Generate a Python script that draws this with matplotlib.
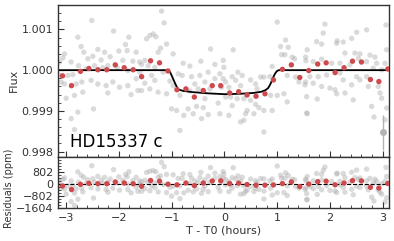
import numpy as np
import matplotlib
matplotlib.use("Agg")
import matplotlib.pyplot as plt
from matplotlib.ticker import MultipleLocator, FixedLocator, FormatStrFormatter

# ---------------- data ----------------
# unbinned photometry (time from mid-transit in hours, relative flux)
t_raw = [
    -2.514, -2.102, -2.780, -1.812, -2.717, -1.875, -2.400, -1.844, -2.666, -2.273,
    -2.002, -1.674, -2.167, -3.032, -2.495, -2.590, -2.338, -1.926, -1.736, -3.065,
    -3.127, -2.907, -1.609, -2.767, -2.463, -2.211, -2.034, -2.306, -2.622, -1.831,
    -2.875, -3.127, -2.970, -2.528, -2.400, -2.243, -2.116, -2.704, -3.097, -3.032,
    -2.812, -1.674, -1.641, -2.211, -1.989, -1.831, -2.685, -2.843, -1.769, -3.002,
    -2.482, -2.780, -2.907, -2.843,
    -1.192, -1.142, -1.351, -1.414, -1.476, -1.300, -1.097, -1.211, -1.256, -0.262,
    -0.972, -1.509, -1.571, -1.446, -1.319, -0.782, -0.655, -0.446, -0.180, -0.023,
    -1.603, -1.381, -1.161, -0.877, -0.801, -0.622, -0.465, -0.307, -0.085, -0.023,
    -1.509, -1.319, -1.034, -0.972, -0.560, -0.370, -0.180, -1.571, -1.414, -1.256,
    -1.097, -0.844, -0.655, -0.497, -0.275, -0.053, -0.370, -0.118, -1.002, -0.907,
    -0.687, -0.528, -0.402, -0.769, -0.592, -0.307, -0.085, -0.433, -0.844,
    1.002, 1.161, 0.167, 1.066, 1.211, 1.085, 1.148, 1.287, 1.541, 1.332,
    0.907, -0.009, 0.256, 0.338, 0.148, 0.213, 0.023, 0.687, 0.750, 0.863,
    0.497, 0.592, 0.307, 0.085, 0.622, 1.192, 1.351, 1.414, 1.541, 0.877,
    1.002, 1.129, 0.118, 0.243, 0.370, 0.497, 0.023, 1.192, 0.148, 0.592,
    0.655, 0.433, 0.402, 0.370, 0.307, 0.750, 0.907, 0.085, 1.571, 0.750,
    0.560,
    1.571, 1.749, 1.844, 1.907, 1.875, 2.140, 2.254, 2.129, 2.508, 2.698,
    2.414, 2.287, 2.476, 2.571, 2.761, 2.856, 3.065, 3.078, 1.546, 1.685,
    1.844, 2.034, 2.192, 2.381, 2.539, 2.698, 2.888, 3.046, 1.622, 1.780,
    1.939, 2.192, 2.508, 2.698, 2.824, 2.983, 1.528, 1.685, 1.844, 2.002,
    2.097, 2.254, 2.414, 2.571, 2.729, 2.918, 1.560, 1.761, 2.129, 2.287,
    2.444, 2.951, 2.983, 2.793, 3.078, 1.560, 2.837, 3.046,
]
f_raw = [
    1.00122, 1.00096, 1.00081, 1.00081, 1.00058, 1.00063, 1.00051, 1.00048, 1.00044, 1.00044,
    1.00047, 1.00044, 1.00033, 1.00040, 1.00034, 1.00028, 1.00025, 1.00024, 1.00022, 1.00030,
    1.00020, 1.00020, 1.00020, 1.00011, 1.00011, 1.00011, 1.00007, 1.00006, 1.00003, 0.99999,
    0.99989, 0.99987, 0.99987, 0.99975, 0.99966, 0.99962, 0.99971, 0.99971, 0.99971, 0.99966,
    0.99966, 0.99979, 0.99950, 0.99944, 0.99958, 0.99962, 0.99946, 0.99938, 0.99940, 0.99931,
    0.99905, 0.99897, 0.99881, 0.99854,
    1.00145, 1.00116, 1.00089, 1.00085, 1.00077, 1.00082, 1.00064, 1.00054, 1.00044, 1.00052,
    1.00040, 1.00024, 1.00014, 1.00011, 1.00007, 1.00017, 1.00010, 1.00022, 1.00014, 1.00024,
    0.99995, 0.99987, 0.99995, 0.99991, 0.99987, 0.99984, 0.99987, 0.99995, 0.99991, 0.99979,
    0.99968, 0.99975, 0.99973, 0.99962, 0.99966, 0.99971, 0.99979, 0.99950, 0.99954, 0.99946,
    0.99942, 0.99938, 0.99949, 0.99954, 0.99954, 0.99958, 0.99930, 0.99919, 0.99905, 0.99901,
    0.99905, 0.99911, 0.99908, 0.99889, 0.99893, 0.99891, 0.99893, 0.99881, 0.99852,
    1.00118, 1.00074, 1.00050, 1.00058, 1.00056, 1.00038, 1.00038, 1.00032, 1.00032, 1.00028,
    1.00009, 1.00007, 0.99995, 0.99987, 0.99984, 0.99975, 0.99971, 0.99983, 0.99983, 0.99984,
    0.99976, 0.99966, 0.99962, 0.99958, 0.99954, 0.99987, 0.99983, 0.99971, 0.99971, 0.99938,
    0.99938, 0.99942, 0.99934, 0.99930, 0.99930, 0.99926, 0.99934, 0.99922, 0.99913, 0.99916,
    0.99908, 0.99901, 0.99893, 0.99877, 0.99873, 0.99901, 0.99901, 0.99889, 0.99893, 0.99848,
    0.99893,
    1.00050, 1.00070, 1.00064, 1.00113, 1.00091, 1.00072, 1.00069, 1.00066, 1.00093, 1.00099,
    1.00078, 1.00042, 1.00042, 1.00040, 1.00037, 1.00032, 1.00111, 1.00050, 1.00023, 1.00021,
    1.00027, 1.00017, 1.00017, 1.00013, 1.00029, 1.00021, 1.00017, 1.00017, 0.99984, 0.99984,
    0.99988, 0.99993, 0.99984, 0.99984, 1.00005, 1.00001, 0.99964, 0.99968, 0.99960, 0.99956,
    0.99952, 0.99976, 0.99964, 0.99976, 0.99960, 0.99960, 0.99935, 0.99929, 0.99942, 0.99944,
    0.99927, 0.99944, 0.99931, 0.99911, 0.99907, 0.99895, 0.99885, 0.99878,
]

# 10-minute binned points
t_bin = [-3.07, -2.90, -2.73, -2.57, -2.40, -2.23, -2.07, -1.90, -1.73, -1.57,
         -1.40, -1.23, -1.07, -0.90, -0.73, -0.57, -0.40, -0.23, -0.07, 0.10,
         0.27, 0.43, 0.60, 0.77, 0.93, 1.10, 1.27, 1.43, 1.60, 1.77,
         1.93, 2.10, 2.27, 2.43, 2.60, 2.77, 2.93, 3.10]
f_bin = [0.99986, 0.99962, 0.99997, 1.00004, 1.00001, 1.00001, 1.00013, 1.00006, 1.00001, 0.99984,
         1.00023, 1.00018, 0.99998, 0.99952, 0.99954, 0.99934, 0.99950, 0.99962, 0.99962, 0.99944,
         0.99947, 0.99939, 0.99936, 0.99942, 0.99976, 1.00002, 1.00013, 0.99982, 0.99999, 1.00015,
         1.00018, 0.99994, 1.00006, 1.00022, 1.00020, 0.99977, 0.99972, 1.00003]

# transit model curve
t_model = [-3.2, -1.06, -1.03, -0.99, -0.94, -0.90, -0.86, -0.78, -0.6, -0.3, 0.0,
           0.3, 0.55, 0.70, 0.78, 0.83, 0.87, 0.91, 0.95, 0.99, 1.03, 3.2]
f_model = [1.0, 1.0, 0.99995, 0.99984, 0.99969, 0.99958, 0.99952, 0.99949, 0.99946, 0.99943, 0.99941,
           0.99942, 0.99944, 0.99947, 0.99951, 0.99956, 0.99965, 0.99977, 0.99989, 0.99997, 1.0, 1.0]

# typical error bar
err_t = [3.01]
err_f = [0.99848]
err_size = [0.00043]

yticks_res = [-1604, -802, 0, 802]
label = "HD15337 c"

# ---------------- derived ----------------
t_raw = np.array(t_raw); f_raw = np.array(f_raw)
t_bin = np.array(t_bin); f_bin = np.array(f_bin)
res_raw = (f_raw - np.interp(t_raw, t_model, f_model)) * 1e6
res_bin = (f_bin - np.interp(t_bin, t_model, f_model)) * 1e6

# ---------------- plot ----------------
fig = plt.figure(figsize=(3.94, 2.41), dpi=100)
ax1 = fig.add_axes([0.148, 0.3506, 0.839, 0.6287])
ax2 = fig.add_axes([0.148, 0.137, 0.839, 0.2136], sharex=ax1)

gray = '#a8a8a8'
red = '#cd4a4e'
dark = '#333333'

ax1.scatter(t_raw, f_raw, s=15, color=gray, alpha=0.42, edgecolors='none', zorder=1)
ax1.plot(t_model, f_model, color='black', lw=1.3, zorder=2)
ax1.scatter(t_bin, f_bin, s=15, color=red, edgecolors='none', zorder=3)
ax1.errorbar(err_t, err_f, yerr=err_size, fmt='o', color='#b3b3b3', ms=4,
             elinewidth=1.0, capsize=0, zorder=2)
ax1.text(0.035, 0.06, label, transform=ax1.transAxes, fontsize=12, color='black')

ax2.scatter(t_raw, res_raw, s=15, color=gray, alpha=0.42, edgecolors='none', zorder=1)
ax2.axhline(0, color='black', lw=0.8, ls='--', zorder=2)
ax2.scatter(t_bin, res_bin, s=15, color=red, edgecolors='none', zorder=3)

ax1.set_xlim(-3.15, 3.12)
ax1.set_ylim(0.99788, 1.0016)
ax1.yaxis.set_major_locator(FixedLocator([0.998, 0.999, 1.000, 1.001]))
ax1.yaxis.set_major_formatter(FormatStrFormatter('%.3f'))
ax1.yaxis.set_minor_locator(MultipleLocator(0.0002))
ax1.xaxis.set_major_locator(MultipleLocator(1))
ax1.xaxis.set_minor_locator(MultipleLocator(0.2))
ax1.tick_params(axis='x', labelbottom=False)

ax2.set_ylim(-1620, 1840)
ax2.yaxis.set_major_locator(FixedLocator(yticks_res))
ax2.yaxis.set_minor_locator(MultipleLocator(200.5))

for ax in (ax1, ax2):
    ax.tick_params(which='both', direction='in', colors=dark, labelsize=8,
                   top=False, right=False)
    ax.tick_params(which='major', length=4, width=0.8)
    ax.tick_params(which='minor', length=2, width=0.6)
    for sp in ax.spines.values():
        sp.set_color(dark)
        sp.set_linewidth(1.0)

ax1.set_ylabel('Flux', fontsize=8, color=dark)
ax1.yaxis.set_label_coords(-0.120, 0.5)
ax2.set_ylabel('Residuals (ppm)', fontsize=7, color=dark)
ax2.yaxis.set_label_coords(-0.134, 0.38)
ax2.set_xlabel('T - T0 (hours)', fontsize=8, color=dark, labelpad=2)

fig.savefig('out.png', dpi=100)
